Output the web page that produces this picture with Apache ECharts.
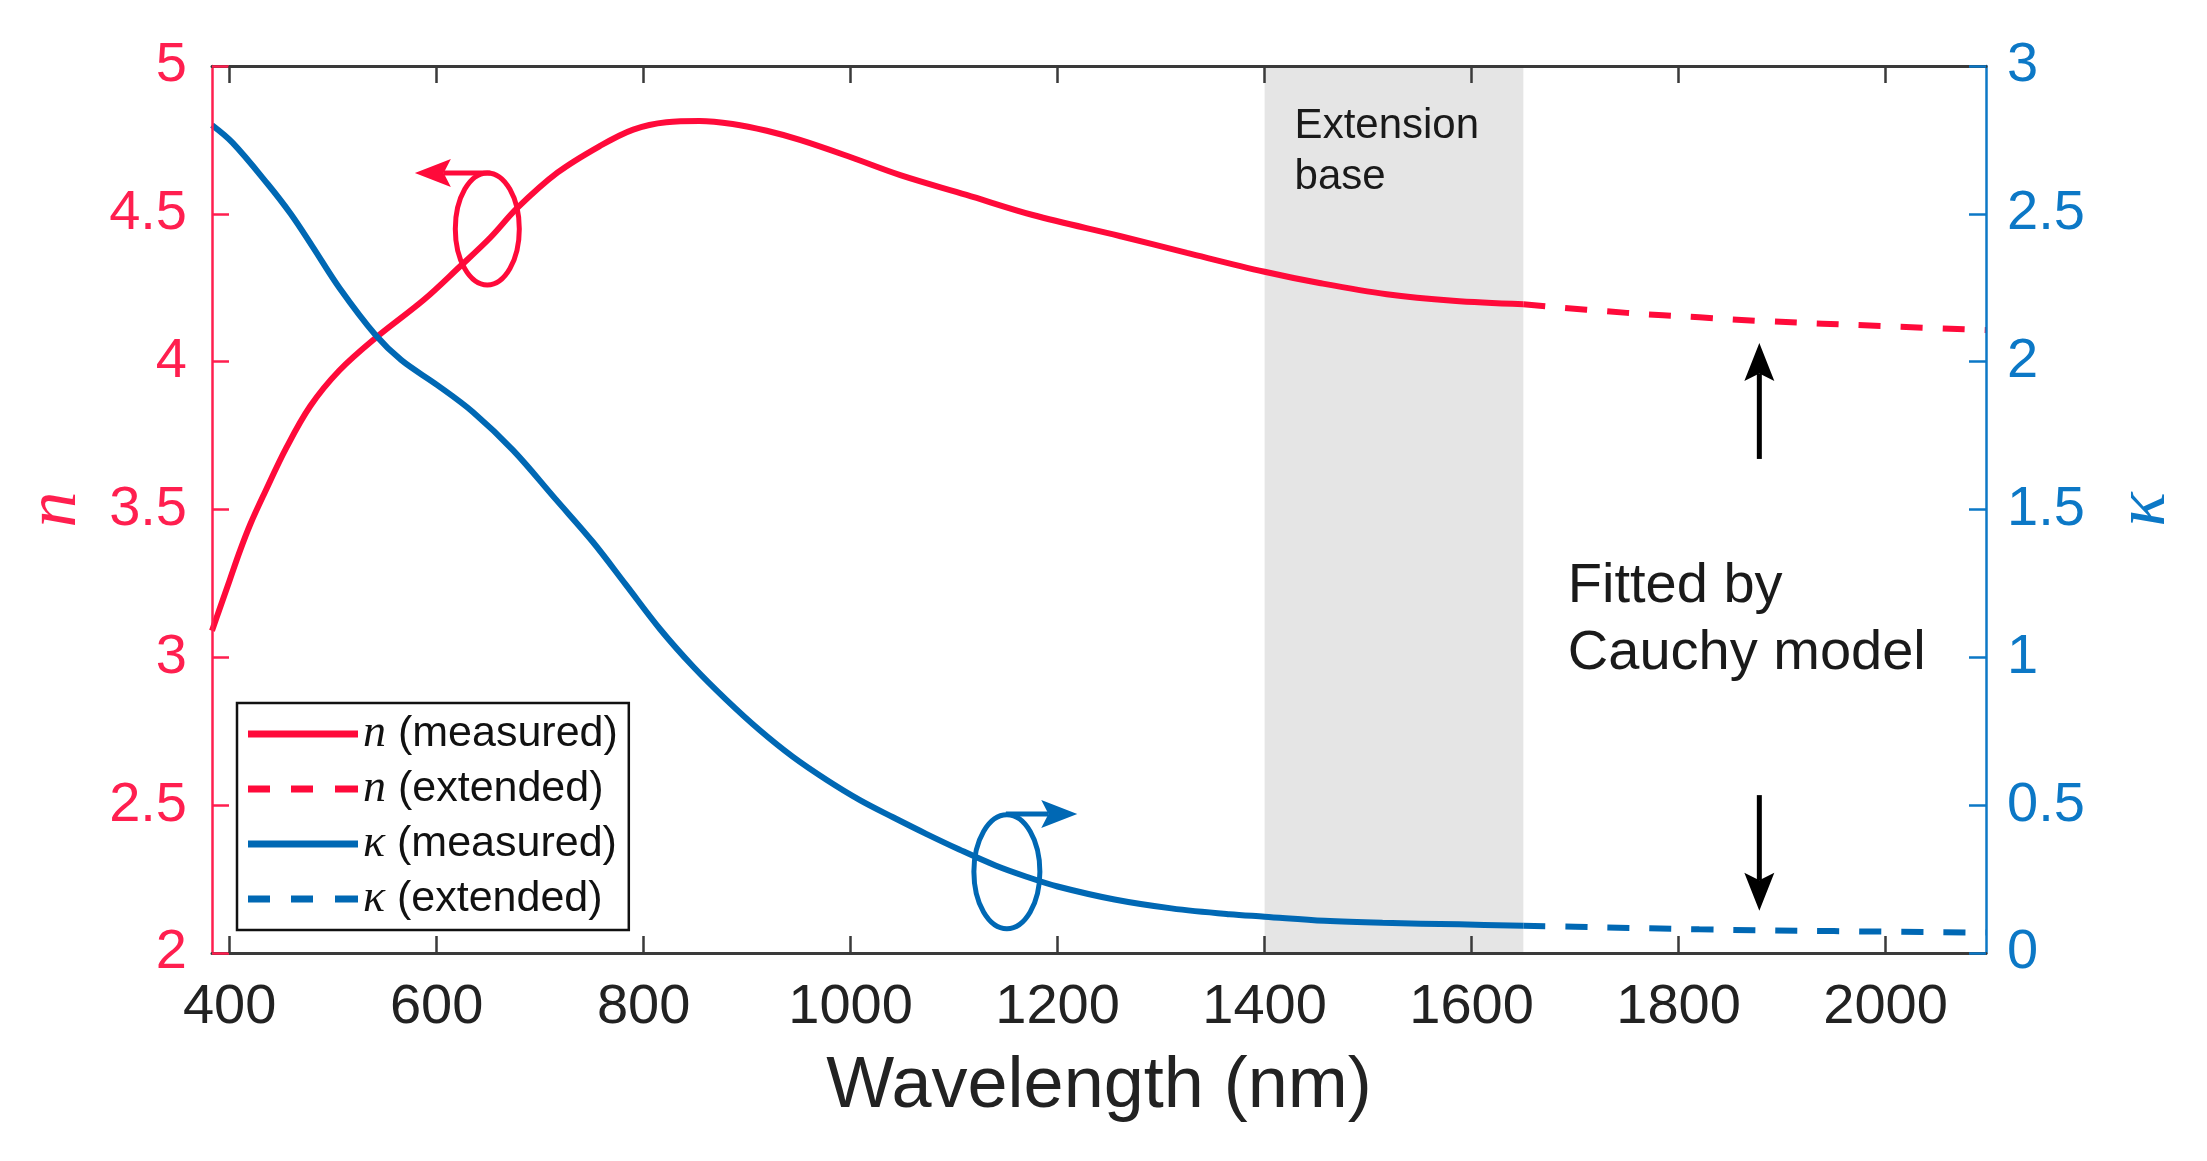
<!DOCTYPE html>
<html>
<head>
<meta charset="utf-8">
<script src="https://cdn.jsdelivr.net/npm/echarts@6/dist/echarts.min.js"></script>
<style>
html,body{margin:0;padding:0;background:#fff;}
#chart{width:2207px;height:1161px;}
</style>
</head>
<body>
<div id="chart"></div>
<script>
// ---------------- data ----------------
const wavelengthN = [383,390,400,410,420,433,455,478,506,541,588,622,652,678,717,758,790,822,854,886,919,951,999,1048,1112,1176,1260,1325,1400,1453,1518,1582,1650];
const nMeasured   = [3.09,3.16,3.26,3.36,3.45,3.55,3.71,3.85,3.97,4.08,4.21,4.32,4.42,4.52,4.64,4.73,4.785,4.810,4.814,4.804,4.781,4.750,4.693,4.631,4.564,4.496,4.425,4.368,4.304,4.266,4.228,4.206,4.194];

const wavelengthNExt = [1650,1750,1820,1878,2000,2097];
const nExtended      = [4.194,4.165,4.150,4.138,4.120,4.107];

const wavelengthK = [383,403,437,459,480,506,541,566,601,635,674,715,751,783,816,848,880,912,944,977,1009,1041,1073,1105,1140,1170,1200,1255,1310,1366,1400,1458,1514,1588,1650];
const kMeasured   = [2.80,2.74,2.60,2.50,2.39,2.25,2.09,2.005,1.92,1.83,1.70,1.535,1.39,1.245,1.095,0.968,0.856,0.754,0.664,0.585,0.517,0.459,0.403,0.350,0.296,0.258,0.225,0.181,0.151,0.131,0.123,0.109,0.102,0.097,0.092];

const wavelengthKExt = [1650,1700,1820,1950,2097];
const kExtended      = [0.092,0.089,0.080,0.074,0.069];

const xTicks = [400,600,800,1000,1200,1400,1600,1800,2000];
const extensionBase = [1400,1650];
const seriesNames = ['n (measured)','n (extended)','κ (measured)','κ (extended)'];

// ---------------- styles ----------------
const RED = '#FF0A3A', RED_AX = '#FF1F4F';
const BLUE = '#0068B4', BLUE_AX = '#0C78C6';
const DARK = '#222222';
const SANS = '"Liberation Sans", Arial, sans-serif';
const SERIF = '"Liberation Serif", "Times New Roman", serif';
const XMIN = 383, XMAX = 2097;
const SOLID_ICON  = 'path://M0,0L110,0L110,7L0,7Z';
const DASHED_ICON = 'path://M0,0L22,0L22,7L0,7Z M43,0L65,0L65,7L43,7Z M87,0L110,0L110,7L87,7Z';

const zip = (xs, ys) => xs.map((x, i) => [x, ys[i]]);

const chart = echarts.init(document.getElementById('chart'));

const yAxisCommon = (color, pos, margin) => ({
  type: 'value', position: pos, min: pos === 'left' ? 2 : 0, max: pos === 'left' ? 5 : 3, interval: 0.5,
  splitLine: {show: false},
  axisLine: {show: true, onZero: false, lineStyle: {color: color, width: 2.5}},
  axisTick: {show: true, inside: true, length: 17, lineStyle: {color: color, width: 2.5}},
  axisLabel: {color: color, fontSize: 56, fontFamily: SANS, margin: margin},
  nameLocation: 'middle',
  nameTextStyle: {color: color, fontFamily: SERIF, fontStyle: 'italic', fontSize: 72},
  z: 10
});

chart.setOption({
  animation: false,
  backgroundColor: '#ffffff',
  grid: {left: 212, right: 2207 - 1986, top: 66, bottom: 1161 - 953, containLabel: false},
  xAxis: [
    {
      type: 'value', min: XMIN, max: XMAX, position: 'bottom',
      name: 'Wavelength (nm)', nameLocation: 'middle', nameGap: 98,
      nameTextStyle: {fontSize: 72, fontFamily: SANS, color: DARK},
      splitLine: {show: false},
      axisLine: {show: true, onZero: false, lineStyle: {color: '#3a3a3a', width: 3}},
      axisTick: {show: true, inside: true, length: 17, customValues: xTicks, lineStyle: {color: '#3a3a3a', width: 2.5}},
      axisLabel: {fontSize: 56, fontFamily: SANS, color: DARK, margin: 27, customValues: xTicks, formatter: v => String(v)},
      z: 10
    },
    {
      type: 'value', min: XMIN, max: XMAX, position: 'top',
      splitLine: {show: false},
      axisLine: {show: true, onZero: false, lineStyle: {color: '#3a3a3a', width: 3}},
      axisTick: {show: true, inside: true, length: 17, customValues: xTicks, lineStyle: {color: '#3a3a3a', width: 2.5}},
      axisLabel: {show: false, customValues: xTicks},
      z: 10
    }
  ],
  yAxis: [
    Object.assign(yAxisCommon(RED_AX, 'left', 25), {name: 'n', nameGap: 120}),
    Object.assign(yAxisCommon(BLUE_AX, 'right', 21), {name: 'κ', nameGap: 123})
  ],
  legend: {
    orient: 'vertical', left: 237, top: 703,
    data: [
      {name: seriesNames[0], icon: SOLID_ICON},
      {name: seriesNames[1], icon: DASHED_ICON},
      {name: seriesNames[2], icon: SOLID_ICON},
      {name: seriesNames[3], icon: DASHED_ICON}
    ],
    padding: [8, 11, 8, 11],
    backgroundColor: '#ffffff', borderColor: '#111111', borderWidth: 2.5, borderRadius: 0,
    itemWidth: 110, itemHeight: 7, itemGap: 9, selectedMode: false,
    symbolKeepAspect: false,
    itemStyle: {borderWidth: 0},
    formatter: name => name.replace(/^([nκ])/, '{i|$1}'),
    textStyle: {
      fontFamily: SANS, fontSize: 43, color: '#111111', lineHeight: 44,
      rich: {i: {fontFamily: SERIF, fontStyle: 'italic', fontSize: 46, lineHeight: 44, color: '#111111'}}
    },
    z: 20
  },
  series: [
    {
      name: seriesNames[0], type: 'line', xAxisIndex: 0, yAxisIndex: 0,
      data: zip(wavelengthN, nMeasured), symbol: 'none', smooth: 0.35,
      lineStyle: {color: RED, width: 6}, itemStyle: {color: RED}, z: 3,
      markArea: {silent: true, itemStyle: {color: '#E5E5E5'}, data: [[{xAxis: extensionBase[0]}, {xAxis: extensionBase[1]}]]}
    },
    {
      name: seriesNames[1], type: 'line', xAxisIndex: 0, yAxisIndex: 0,
      data: zip(wavelengthNExt, nExtended), symbol: 'none', smooth: 0.35,
      lineStyle: {color: RED, width: 6, type: [22, 20]}, itemStyle: {color: RED}, z: 3
    },
    {
      name: seriesNames[2], type: 'line', xAxisIndex: 0, yAxisIndex: 1,
      data: zip(wavelengthK, kMeasured), symbol: 'none', smooth: 0.35,
      lineStyle: {color: BLUE, width: 6}, itemStyle: {color: BLUE}, z: 3
    },
    {
      name: seriesNames[3], type: 'line', xAxisIndex: 0, yAxisIndex: 1,
      data: zip(wavelengthKExt, kExtended), symbol: 'none', smooth: 0.35,
      lineStyle: {color: BLUE, width: 6, type: [22, 20]}, itemStyle: {color: BLUE}, z: 3
    }
  ]
});

// ---------------- annotations (anchored in data coordinates) ----------------
const redEllipse  = {at: [649, 4.449], axis: 0, rx: 32, ry: 56};
const blueEllipse = {at: [1151, 0.275], axis: 1, rx: 33, ry: 57};
const redArrow   = {from: [652, 4.638], to: [579, 4.638], axis: 0};
const blueArrow  = {from: [1150, 0.470], to: [1219, 0.470], axis: 1};
const upArrow    = {from: [1878, 3.671], to: [1878, 4.063], axis: 0};
const downArrow  = {from: [1878, 0.534], to: [1878, 0.143], axis: 1};
const extText    = {at: [1429, 4.711], axis: 0, text: 'Extension\nbase'};
const fitText    = {at: [1693, 3.127], axis: 0, text: 'Fitted by\nCauchy model'};

const px = (pt, axis) => chart.convertToPixel({xAxisIndex: 0, yAxisIndex: axis}, pt);

function arrow(a, color, L, W, lw) {
  const p0 = px(a.from, a.axis), p1 = px(a.to, a.axis);
  const dx = p1[0] - p0[0], dy = p1[1] - p0[1];
  const len = Math.hypot(dx, dy), ux = dx / len, uy = dy / len, nx = -uy, ny = ux;
  const back = [p1[0] - ux * L, p1[1] - uy * L];
  const notch = [p1[0] - ux * L * 0.8, p1[1] - uy * L * 0.8];
  return [
    {type: 'line', silent: true, z: 50, shape: {x1: p0[0], y1: p0[1], x2: notch[0], y2: notch[1]}, style: {stroke: color, lineWidth: lw}},
    {type: 'polygon', silent: true, z: 50, shape: {points: [p1, [back[0] + nx * W, back[1] + ny * W], notch, [back[0] - nx * W, back[1] - ny * W]]}, style: {fill: color}}
  ];
}
function ellipse(e, color) {
  const c = px(e.at, e.axis);
  return {type: 'ellipse', silent: true, z: 50, shape: {cx: c[0], cy: c[1], rx: e.rx, ry: e.ry}, style: {fill: null, stroke: color, lineWidth: 5}};
}
function label(t, size, lh) {
  const p = px(t.at, t.axis);
  return {type: 'text', silent: true, z: 50, x: p[0], y: p[1],
    style: {text: t.text, fontFamily: SANS, fontSize: size, lineHeight: lh, fill: '#1a1a1a', align: 'left', verticalAlign: 'middle'}};
}

chart.setOption({
  graphic: [
    ellipse(redEllipse, RED),
    ellipse(blueEllipse, BLUE),
    ...arrow(redArrow, RED, 36, 14, 5),
    ...arrow(blueArrow, BLUE, 36, 14, 5),
    ...arrow(upArrow, '#000000', 38, 15, 5),
    ...arrow(downArrow, '#000000', 38, 15, 5),
    label(extText, 42, 51),
    label(fitText, 56, 67)
  ]
});
</script>
</body>
</html>
